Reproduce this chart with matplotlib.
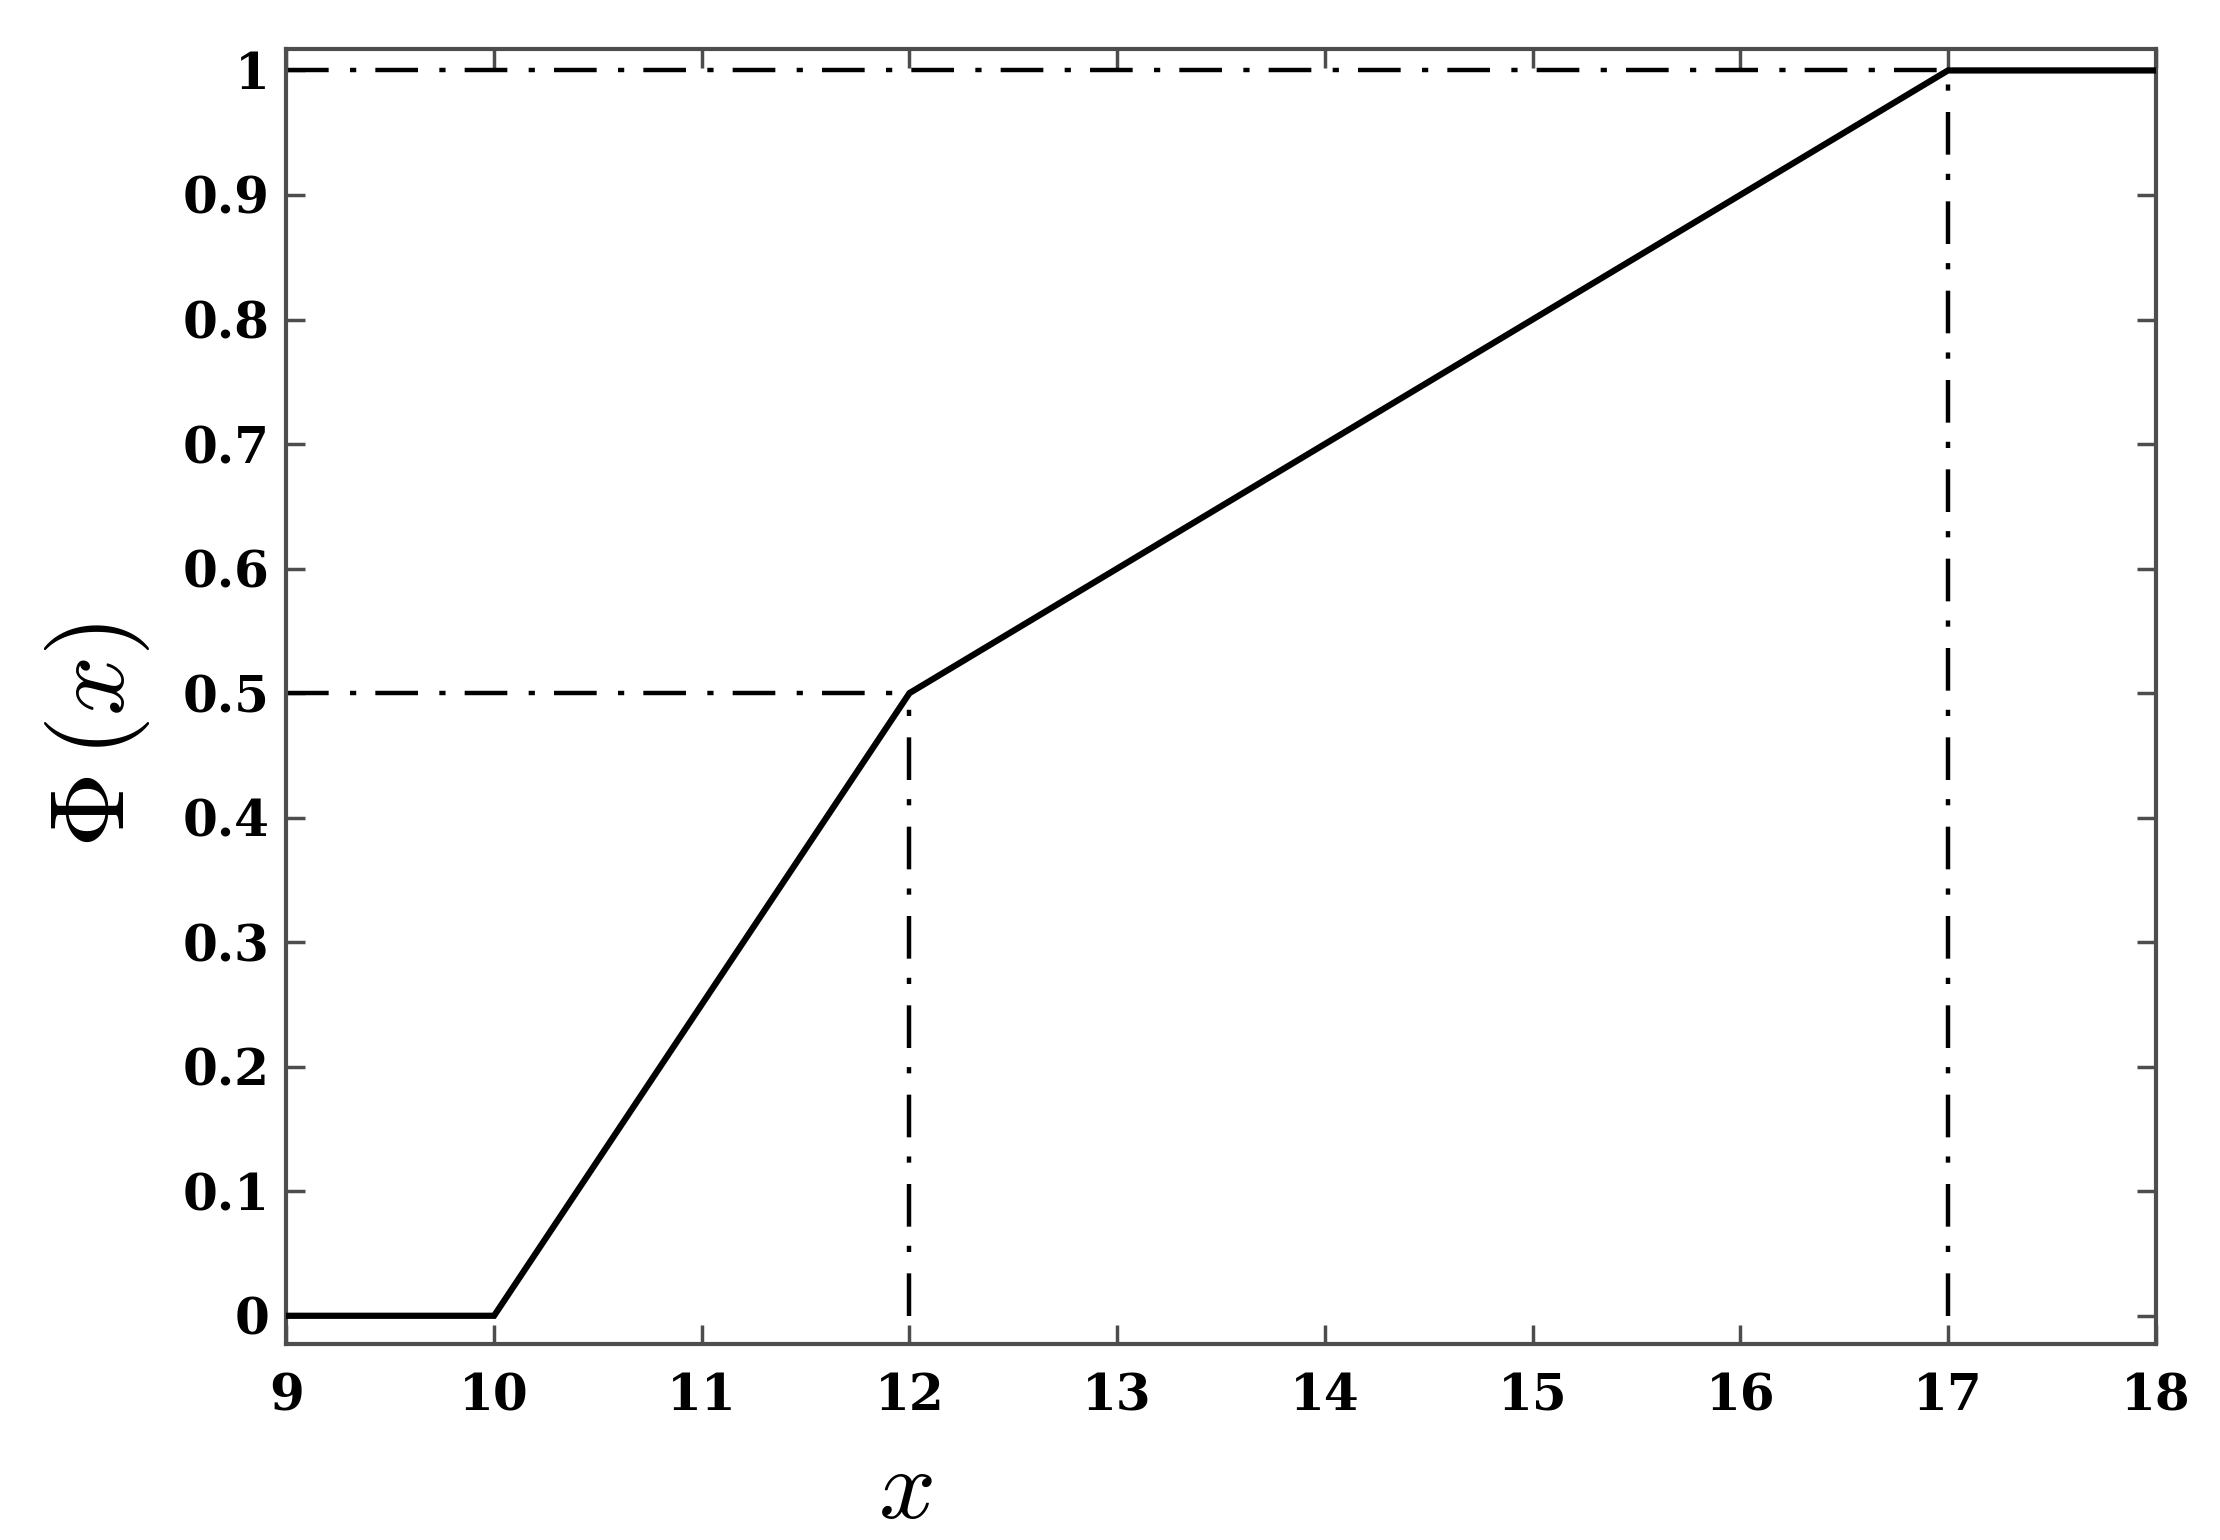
import numpy as np
import matplotlib
matplotlib.use("Agg")
import matplotlib.pyplot as plt

plt.rcParams["mathtext.fontset"] = "cm"

# piecewise linear membership curve
x_pts = [9, 10, 12, 17, 18]
phi_pts = [0, 0, 0.5, 1, 1]

# reference guides (dash-dot)
guide_x = [12, 17]
guide_y = [0.5, 1.0]

x_ticks = list(range(9, 19))
y_ticks = [0, 0.1, 0.2, 0.3, 0.4, 0.5, 0.6, 0.7, 0.8, 0.9, 1]
y_ticklabels = ["0", "0.1", "0.2", "0.3", "0.4", "0.5", "0.6", "0.7", "0.8", "0.9", "1"]

spine_col = "#4d4d4d"

fig = plt.figure(figsize=(22.2, 15.4), dpi=100)
ax = fig.add_axes([0.129, 0.127, 0.842, 0.841])

ax.plot(x_pts, phi_pts, color="black", lw=4.5, solid_joinstyle="miter", zorder=3)

dash = (0, (9.6, 4.8, 1.4, 4.3))
for gx, gy in zip(guide_x, guide_y):
    ax.plot([gx, gx], [0, gy], color="black", lw=3.2, linestyle=dash, zorder=2)
    ax.plot([9, gx], [gy, gy], color="black", lw=3.2, linestyle=dash, zorder=2)

ax.set_xlim(9, 18)
ax.set_ylim(-0.023, 1.017)
ax.set_xticks(x_ticks)
ax.set_yticks(y_ticks)
ax.set_yticklabels(y_ticklabels)

for s in ax.spines.values():
    s.set_color(spine_col)
    s.set_linewidth(3)

ax.tick_params(direction="in", length=14, width=2.5, color=spine_col,
               top=True, right=True)
ax.tick_params(axis="x", pad=20)
ax.tick_params(axis="y", pad=12)
for lab in ax.get_xticklabels() + ax.get_yticklabels():
    lab.set_fontfamily("DejaVu Serif")
    lab.set_fontweight("bold")
    lab.set_fontsize(36)

ax.set_xlabel(r"$x$", fontsize=72)
ax.xaxis.set_label_coords(0.331, -0.075)
ax.set_ylabel(r"$\Phi\,(x)$", fontsize=76)
ax.yaxis.set_label_coords(-0.072, 0.47)

fig.savefig("out.png", dpi=100)
